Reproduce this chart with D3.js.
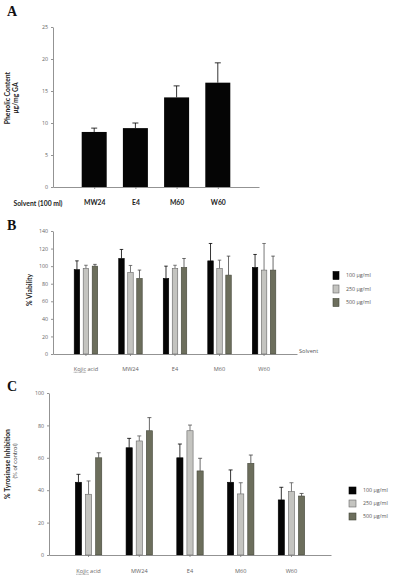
<!DOCTYPE html>
<html>
<head>
<meta charset="utf-8">
<script src="https://cdn.jsdelivr.net/npm/d3@7"></script>
<style>
  body { margin: 0; background: #fff; }
  .axis path, .axis line { stroke: #777; stroke-width: 0.8; }
  .axis text { fill: #666; font-family: "Open Sans", sans-serif; font-size: 5.3px; }
  .axis.bold-labels text { fill: #222; font-family: Lato, sans-serif; font-weight: bold; font-size: 6.8px; }
  .panel-letter { font-family: "Liberation Serif", serif; font-weight: bold; font-size: 14px; fill: #111; }
  .ylabel { font-family: Lato, sans-serif; font-weight: bold; font-size: 6.8px; fill: #222; }
  .ylabel.sub { font-weight: normal; font-size: 6px; fill: #555; }
  .legend text { font-family: "Open Sans", sans-serif; font-size: 5.3px; fill: #555; }
</style>
</head>
<body>
<div id="chart"></div>
<script>
// Panel A: phenolic content
const phenolicCategories = ['MW24', 'E4', 'M60', 'W60'];
const phenolicMean = [8.6, 9.2, 14.0, 16.3];
const phenolicErr = [0.6, 0.8, 1.8, 3.1];
const phenolicTicks = [0, 5, 10, 15, 20, 25];

// Panels B and C share these
const extracts = ['Kojic acid', 'MW24', 'E4', 'M60', 'W60'];
const concentrations = ['100 μg/ml', '250 μg/ml', '500 μg/ml'];

// Panel B: % viability
const viab100 = [96, 108.7, 86, 106, 98.5];
const viab100Err = [10, 10.3, 14, 19.8, 14.8];
const viab250 = [97.4, 92.8, 97.4, 97.4, 95.5];
const viab250Err = [3.6, 8, 3.6, 9.4, 30.3];
const viab500 = [100, 86, 98.5, 89.8, 95.5];
const viab500Err = [2, 9.5, 10.2, 21.6, 15.9];
const viabTicks = [0, 20, 40, 60, 80, 100, 120, 140];

// Panel C: % tyrosinase inhibition
const tyr100 = [44.9, 66.2, 60, 44.9, 34];
const tyr100Err = [4.9, 5.8, 8.5, 7.6, 7.8];
const tyr250 = [37.5, 70.4, 76.7, 37.7, 39.1];
const tyr250Err = [8.2, 3.1, 3.5, 6.9, 5.5];
const tyr500 = [60, 76.7, 51.9, 56.6, 36.4];
const tyr500Err = [3.1, 8.1, 7.8, 5.1, 1.6];
const tyrTicks = [0, 20, 40, 60, 80, 100];

const fills = ['#050505', '#c4c4c0', '#6c6e5c'];
const strokes = ['#000', '#666', '#44463a'];
const errColors = ['#000', '#555', '#444'];

const svg = d3.select('#chart').append('svg')
    .attr('width', 398)
    .attr('height', 577);

function errorBars(g, data, xFn, yScale, capW, colorFn) {
    g.selectAll('.err-v')
        .data(data)
        .enter()
        .append('line')
        .attr('x1', xFn).attr('x2', xFn)
        .attr('y1', d => yScale(d.mean))
        .attr('y2', d => yScale(d.mean + d.err))
        .attr('stroke', colorFn)
        .attr('stroke-width', 0.8);
    g.selectAll('.err-cap')
        .data(data)
        .enter()
        .append('line')
        .attr('x1', d => xFn(d) - capW / 2)
        .attr('x2', d => xFn(d) + capW / 2)
        .attr('y1', d => yScale(d.mean + d.err))
        .attr('y2', d => yScale(d.mean + d.err))
        .attr('stroke', colorFn)
        .attr('stroke-width', 0.8);
}

function redUnderline(textNode, from, to) {
    // spell-check style underline under part of a label
    const a = textNode.getStartPositionOfChar(from);
    const b = textNode.getEndPositionOfChar(to);
    const y = a.y + 1.3;
    d3.select(textNode.parentNode).append('line')
        .attr('x1', a.x).attr('x2', b.x)
        .attr('y1', y).attr('y2', y)
        .attr('stroke', '#e04040')
        .attr('stroke-width', 0.6)
        .attr('stroke-dasharray', '0.8,0.5');
}

// ---------- Panel A ----------
function drawPanelA() {
    const g = svg.append('g');
    const x = d3.scalePoint().domain(phenolicCategories).range([53, 259]).padding(1);
    const y = d3.scaleLinear().domain([0, 25]).range([187, 27]);
    const barW = 25;

    g.append('text').attr('class', 'panel-letter').attr('x', 7).attr('y', 16).text('A');

    g.append('g').attr('class', 'axis')
        .attr('transform', 'translate(53,0)')
        .call(d3.axisLeft(y).tickValues(phenolicTicks).tickSize(2).tickSizeOuter(0).tickPadding(3));

    const data = phenolicCategories.map((c, i) => ({ cat: c, mean: phenolicMean[i], err: phenolicErr[i] }));

    errorBars(g, data, d => x(d.cat), y, 6, () => '#000');

    g.selectAll('.bar')
        .data(data)
        .enter()
        .append('rect')
        .attr('x', d => x(d.cat) - barW / 2)
        .attr('y', d => y(d.mean))
        .attr('width', barW)
        .attr('height', d => y(0) - y(d.mean))
        .attr('fill', '#050505');

    g.append('g').attr('class', 'axis bold-labels')
        .attr('transform', 'translate(0,187)')
        .call(d3.axisBottom(x).tickSize(2).tickSizeOuter(0).tickPadding(11));

    g.append('text').attr('class', 'ylabel')
        .attr('x', 38).attr('y', 205.5)
        .attr('text-anchor', 'middle')
        .text('Solvent (100 ml)');

    const yl = g.append('text').attr('class', 'ylabel')
        .attr('transform', 'translate(9.5,98) rotate(-90)')
        .attr('text-anchor', 'middle');
    yl.append('tspan').attr('x', 0).attr('y', 0).text('Phenolic Content');
    yl.append('tspan').attr('x', 0).attr('y', 8).text('μg/mg GA');
}

// ---------- Grouped panels B and C ----------
function drawGrouped(opts) {
    const g = svg.append('g');
    const x = d3.scaleBand().domain(extracts).range(opts.xRange).paddingInner(0).paddingOuter(opts.outerPad);
    const xSub = d3.scaleBand().domain(concentrations).range([-opts.subHalf, opts.subHalf]).paddingInner(opts.subPad);
    const y = d3.scaleLinear().domain(opts.yDomain).range(opts.yRange);
    const cx = c => x(c) + x.bandwidth() / 2;

    g.append('text').attr('class', 'panel-letter').attr('x', 7).attr('y', opts.letterY).text(opts.letter);

    g.append('g').attr('class', 'axis')
        .attr('transform', `translate(${opts.xRange[0]},0)`)
        .call(d3.axisLeft(y).tickValues(opts.ticks).tickSize(2).tickSizeOuter(0).tickPadding(3));

    const rows = [];
    opts.series.forEach((s, si) => {
        extracts.forEach((c, i) => {
            rows.push({ cat: c, conc: concentrations[si], si: si, mean: s.values[i], err: s.errs[i] });
        });
    });

    const barX = d => cx(d.cat) + xSub(d.conc);
    errorBars(g, rows, d => barX(d) + xSub.bandwidth() / 2, y, opts.capW, d => errColors[d.si]);

    g.selectAll('.bar')
        .data(rows)
        .enter()
        .append('rect')
        .attr('x', barX)
        .attr('y', d => y(d.mean))
        .attr('width', xSub.bandwidth())
        .attr('height', d => y(0) - y(d.mean))
        .attr('fill', d => fills[d.si])
        .attr('stroke', d => strokes[d.si])
        .attr('stroke-width', 0.6);

    const xAxis = g.append('g').attr('class', 'axis')
        .attr('transform', `translate(0,${opts.yRange[0]})`)
        .call(d3.axisBottom(x).tickSize(2).tickSizeOuter(0).tickPadding(opts.labelPad));
    xAxis.selectAll('.tick text').style('font-size', '5.6px');

    const kojic = xAxis.selectAll('.tick text').filter(d => d === 'Kojic acid').node();
    redUnderline(kojic, 0, 4);

    // legend
    const leg = g.append('g').attr('class', 'legend');
    concentrations.forEach((c, i) => {
        leg.append('rect')
            .attr('x', opts.legend.x)
            .attr('y', opts.legend.y + i * opts.legend.step - opts.legend.h / 2)
            .attr('width', opts.legend.w)
            .attr('height', opts.legend.h)
            .attr('fill', fills[i])
            .attr('stroke', strokes[i])
            .attr('stroke-width', 0.6);
        leg.append('text')
            .attr('x', opts.legend.x + opts.legend.w + 7)
            .attr('y', opts.legend.y + i * opts.legend.step)
            .attr('dy', '0.35em')
            .text(c);
    });

    return g;
}

drawPanelA();

const gB = drawGrouped({
    letter: 'B', letterY: 230,
    xRange: [53, 297], outerPad: 0.24,
    subHalf: 11.75, subPad: 0.39, capW: 3.5,
    yDomain: [0, 140], yRange: [354, 231], ticks: viabTicks,
    labelPad: 11,
    series: [
        { values: viab100, errs: viab100Err },
        { values: viab250, errs: viab250Err },
        { values: viab500, errs: viab500Err }
    ],
    legend: { x: 333, y: 275.5, step: 13.5, w: 6, h: 8 }
});
gB.append('text').attr('class', 'axis')
    .attr('x', 299).attr('y', 353)
    .style('font-family', '"Open Sans", sans-serif').style('font-size', '5.6px').style('fill', '#555')
    .text('Solvent');
gB.append('text').attr('class', 'ylabel')
    .attr('transform', 'translate(32,290) rotate(-90)')
    .attr('text-anchor', 'middle')
    .text('% Viability');

const gC = drawGrouped({
    letter: 'C', letterY: 391,
    xRange: [49, 331], outerPad: 0.28,
    subHalf: 13.2, subPad: 0.39, capW: 4,
    yDomain: [0, 100], yRange: [555, 393], ticks: tyrTicks,
    labelPad: 12,
    series: [
        { values: tyr100, errs: tyr100Err },
        { values: tyr250, errs: tyr250Err },
        { values: tyr500, errs: tyr500Err }
    ],
    legend: { x: 349, y: 490.5, step: 13, w: 7, h: 7 }
});
const ylC = gC.append('text').attr('class', 'ylabel')
    .attr('transform', 'translate(10,464) rotate(-90)')
    .attr('text-anchor', 'middle')
    .text('% Tyrosinase Inhibition');
gC.append('text').attr('class', 'ylabel sub')
    .attr('transform', 'translate(17,461) rotate(-90)')
    .attr('text-anchor', 'middle')
    .text('(% of control)');
</script>
</body>
</html>
